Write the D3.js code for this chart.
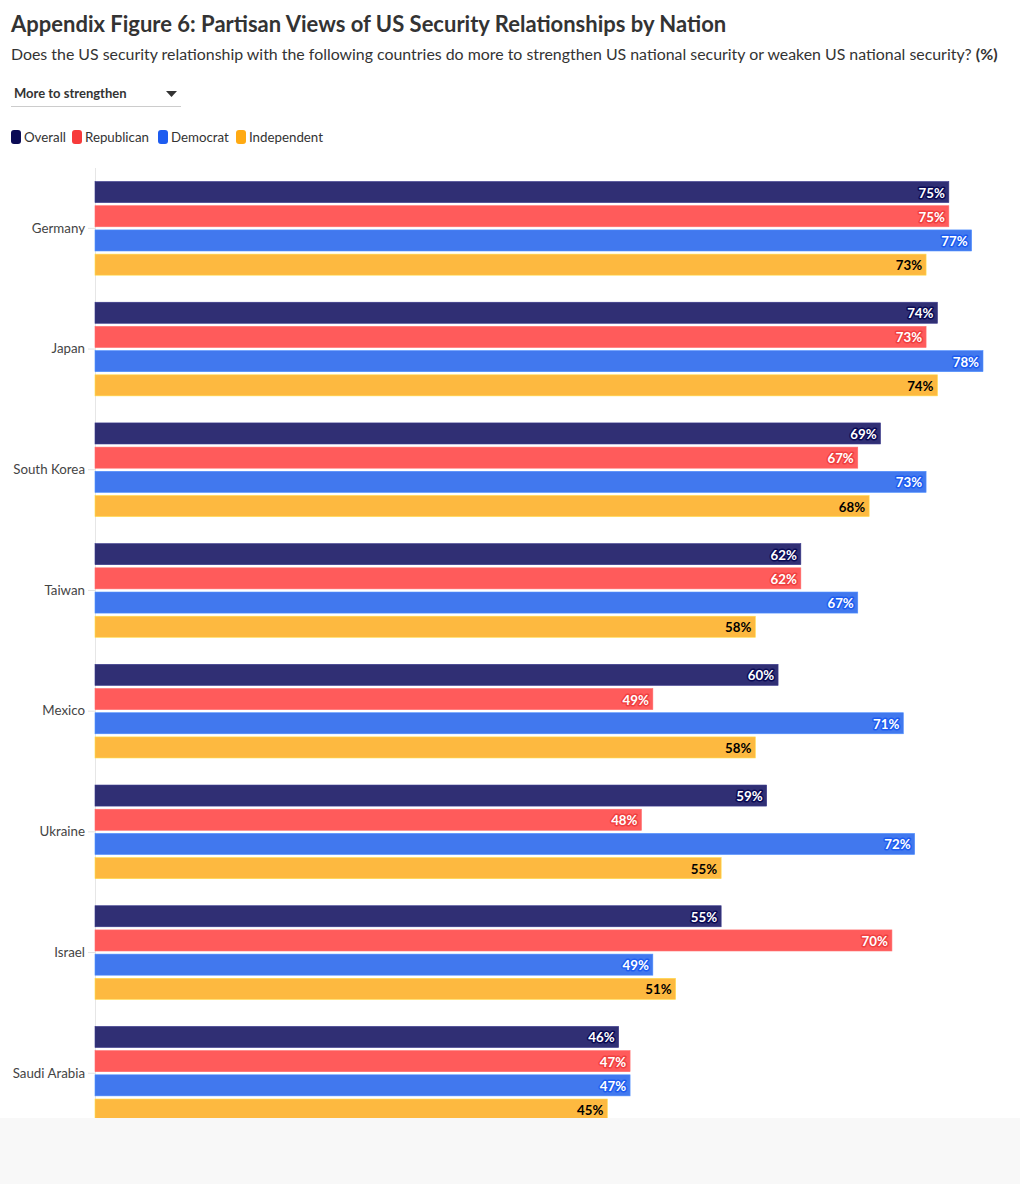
<!DOCTYPE html>
<html>
<head>
<meta charset="utf-8">
<script src="https://cdn.jsdelivr.net/npm/d3@7"></script>
<style>
  html, body { margin: 0; padding: 0; background: #ffffff; }
  svg { display: block; font-family: Lato, "Noto Sans", sans-serif; }
</style>
</head>
<body>
<svg id="chart" width="1020" height="1184"></svg>
<script>
const countries = ["Germany", "Japan", "South Korea", "Taiwan", "Mexico", "Ukraine", "Israel", "Saudi Arabia"];
const seriesNames = ["Overall", "Republican", "Democrat", "Independent"];
const overall     = [75, 74, 69, 62, 60, 59, 55, 46];
const republican  = [75, 73, 67, 62, 49, 48, 70, 47];
const democrat    = [77, 78, 73, 67, 71, 72, 49, 47];
const independent = [73, 74, 68, 58, 58, 55, 51, 45];
const seriesValues = [overall, republican, democrat, independent];

const barColors    = ["#302f74", "#ff5b5b", "#4178ee", "#fdb940"];
const legendColors = ["#0b0b55", "#f73a3a", "#1d5cf0", "#ffaa12"];
const haloColors   = ["#0b0b55", "#f04040", "#1d5cf0", "#fdb940"];
const textColors   = ["#ffffff", "#ffffff", "#ffffff", "#000000"];

const svg = d3.select("#chart");

// Title & subtitle
svg.append("text").attr("x", 11).attr("y", 32)
  .attr("font-size", 22).attr("font-weight", 700).attr("fill", "#333333")
  .text("Appendix Figure 6: Partisan Views of US Security Relationships by Nation");
const sub = svg.append("text").attr("x", 11).attr("y", 60)
  .attr("font-size", 15.9).attr("fill", "#333333");
sub.append("tspan").text("Does the US security relationship with the following countries do more to strengthen US national security or weaken US national security? ");
sub.append("tspan").attr("font-weight", 700).text("(%)");

// Dropdown
svg.append("text").attr("x", 14).attr("y", 98)
  .attr("font-size", 13).attr("font-weight", 700).attr("fill", "#333333")
  .text("More to strengthen");
svg.append("path").attr("d", "M166,91 L177,91 L171.5,97 Z").attr("fill", "#333333");
svg.append("line").attr("x1", 11).attr("x2", 181).attr("y1", 106.5).attr("y2", 106.5)
  .attr("stroke", "#cccccc").attr("stroke-width", 1);

// Legend
const legendX = [11, 72, 158, 236];
const lg = svg.append("g");
seriesNames.forEach((name, i) => {
  lg.append("rect").attr("x", legendX[i]).attr("y", 130).attr("width", 10).attr("height", 14)
    .attr("rx", 3).attr("fill", legendColors[i]);
  lg.append("text").attr("x", legendX[i] + 13).attr("y", 142)
    .attr("font-size", 13.3).attr("fill", "#333333").text(name);
});

// Scales
const x = d3.scaleLinear().domain([0, 78]).range([95, 983]);
const groupStep = 120.7;
const y0 = d3.scaleBand().domain(countries).range([168, 168 + groupStep * countries.length]).padding(0);
const y1 = d3.scaleBand().domain(seriesNames).range([0, y0.bandwidth()]).paddingInner(0.13).paddingOuter(0.559);

svg.append("defs").append("clipPath").attr("id", "plotclip")
  .append("rect").attr("x", 0).attr("y", 160).attr("width", 1020).attr("height", 958);

const plot = svg.append("g").attr("clip-path", "url(#plotclip)");

// Axis
const axis = d3.axisLeft(y0).tickSize(7).tickPadding(3);
const axisG = plot.append("g").attr("transform", "translate(95,0)").call(axis);
axisG.select(".domain").remove();
axisG.selectAll(".tick line").attr("stroke", "#e2e2e2");
axisG.selectAll(".tick text").attr("font-size", 13.3).attr("fill", "#444444")
  .attr("font-family", "Lato, 'Noto Sans', sans-serif");
plot.append("line").attr("x1", 95.5).attr("x2", 95.5).attr("y1", 168).attr("y2", 1118)
  .attr("stroke", "#e6e6e6");

// Bars
const rows = [];
countries.forEach((c, ci) => {
  seriesNames.forEach((s, si) => rows.push({ country: c, series: s, si, value: seriesValues[si][ci] }));
});

const groups = plot.append("g");
groups.selectAll("rect.bar").data(rows).join("rect")
  .attr("class", "bar")
  .attr("x", x(0))
  .attr("y", d => y0(d.country) + y1(d.series))
  .attr("width", d => x(d.value) - x(0))
  .attr("height", y1.bandwidth())
  .attr("fill", d => barColors[d.si])
  .attr("stroke", d => d3.color(barColors[d.si]).brighter(0.5))
  .attr("stroke-width", 0.6);

// Labels
const labelY = d => y0(d.country) + y1(d.series) + y1.bandwidth() / 2 + 5.5;
const labels = plot.append("g");
labels.selectAll("text.halo").data(rows).join("text")
  .attr("class", "halo")
  .attr("x", d => x(d.value) - 4)
  .attr("y", labelY)
  .attr("text-anchor", "end").attr("font-size", 13.3).attr("font-weight", 700)
  .attr("fill", d => haloColors[d.si]).attr("stroke", d => haloColors[d.si])
  .attr("stroke-width", 3).attr("stroke-linejoin", "round")
  .text(d => d.value + "%");
labels.selectAll("text.lbl").data(rows).join("text")
  .attr("class", "lbl")
  .attr("x", d => x(d.value) - 4)
  .attr("y", labelY)
  .attr("text-anchor", "end").attr("font-size", 13.3).attr("font-weight", 700)
  .attr("fill", d => textColors[d.si])
  .text(d => d.value + "%");

// Footer
svg.append("rect").attr("x", 0).attr("y", 1118).attr("width", 1020).attr("height", 66).attr("fill", "#f8f8f8");
</script>
</body>
</html>
